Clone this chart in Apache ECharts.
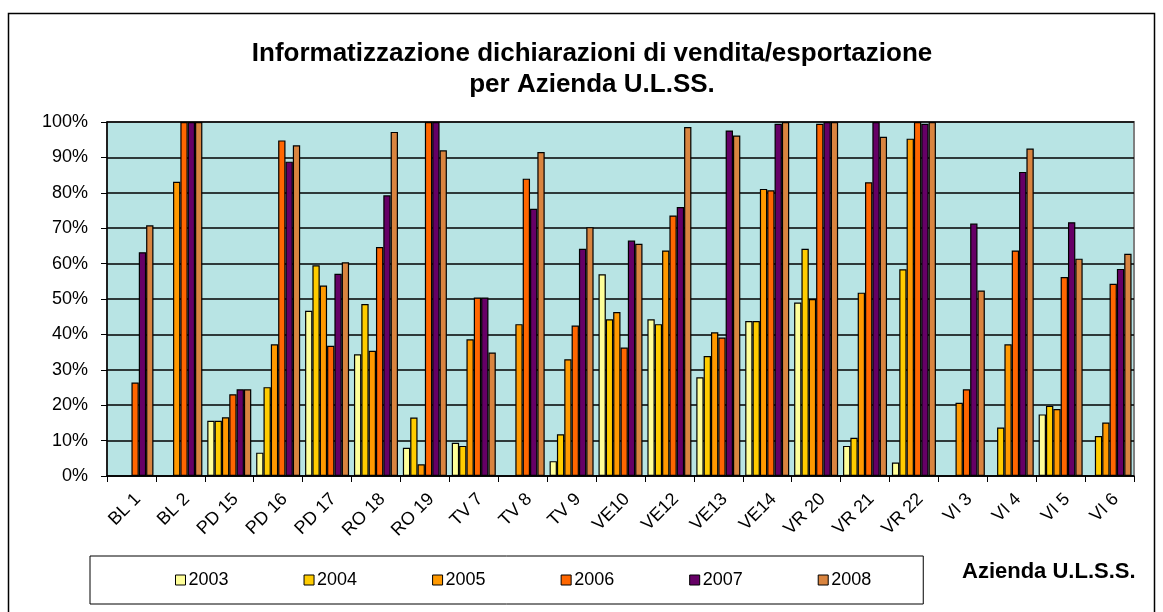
<!DOCTYPE html>
<html>
<head>
<meta charset="utf-8">
<script src="https://cdn.jsdelivr.net/npm/echarts@6/dist/echarts.min.js"></script>
<style>
  html, body { margin: 0; padding: 0; background: #fff; }
  #chart { width: 1163px; height: 612px; }
</style>
</head>
<body>
<div id="chart"></div>
<script>
  // Aziende U.L.SS. (categorie asse x)
  const aziende = ['BL 1', 'BL 2', 'PD 15', 'PD 16', 'PD 17', 'RO 18', 'RO 19', 'TV 7', 'TV 8', 'TV 9',
    'VE10', 'VE12', 'VE13', 'VE14', 'VR 20', 'VR 21', 'VR 22', 'VI 3', 'VI 4', 'VI 5', 'VI 6']
  const anni = ['2003', '2004', '2005', '2006', '2007', '2008']

  // percentuali (null = nessun dato)
  const v2003 = [null, null, 15.6, 6.6, 46.7, 34.4, 8.0, 9.4, null, 4.2, 57.0, 44.3, 27.9, 43.8, 49.0, 8.5, 3.8, null, null, 17.4, null]
  const v2004 = [null, null, 15.6, 25.1, 59.5, 48.6, 16.5, 8.5, null, 11.8, 44.3, 42.9, 33.9, 43.8, 64.2, 10.8, 58.4, null, 13.7, 19.8, 11.3]
  const v2005 = [null, 83.1, 16.6, 37.2, 53.8, 35.4, 3.3, 38.6, 42.9, 33.0, 46.3, 63.7, 40.6, 81.1, 50.0, 51.8, 95.3, 20.7, 37.2, 18.9, 15.1]
  const v2006 = [26.4, 100, 23.1, 94.8, 36.8, 64.7, 100, 50.4, 84.0, 42.5, 36.3, 73.6, 39.1, 80.7, 99.5, 83.0, 100, 24.5, 63.7, 56.2, 54.3]
  const v2007 = [63.2, 100, 24.5, 88.8, 57.1, 79.3, 100, 50.4, 75.5, 64.2, 66.5, 76.0, 97.6, 99.5, 100, 100, 99.5, 71.3, 85.9, 71.7, 58.5]
  const v2008 = [70.8, 100, 24.5, 93.4, 60.4, 97.2, 92.0, 34.9, 91.5, 70.3, 65.6, 98.6, 96.2, 100, 100, 95.8, 100, 52.4, 92.5, 61.4, 62.8]
  const valori = [v2003, v2004, v2005, v2006, v2007, v2008]

  const colori = ['#FFFF99', '#FFCC00', '#FF9900', '#FF6600', '#660066', '#D9843F']
  const font = 'Liberation Sans, Arial, sans-serif'

  const myChart = echarts.init(document.getElementById('chart'))

  myChart.setOption({
    animation: false,
    textStyle: { fontFamily: font, color: '#000' },
    color: colori,
    grid: {
      left: 107, right: 29, top: 122, bottom: 136,
      show: true,
      backgroundColor: '#B8E4E4',
      borderColor: '#808080',
      borderWidth: 2
    },
    legend: {
      data: anni,
      left: 90,
      top: 556,
      padding: [15, 52, 15, 85],
      itemGap: 75,
      itemWidth: 10,
      itemHeight: 10,
      icon: 'rect',
      borderColor: '#000',
      borderWidth: 1,
      itemStyle: { borderColor: '#000', borderWidth: 1 },
      textStyle: { fontSize: 18, fontFamily: font, color: '#000', padding: [0, 0, 0, -2] }
    },
    xAxis: {
      type: 'category',
      data: aziende,
      axisLine: { lineStyle: { color: '#000', width: 1.5 } },
      axisTick: { show: true, length: 6, lineStyle: { color: '#000' } },
      axisLabel: { rotate: 45, fontSize: 18, margin: 14, color: '#000', interval: 0, verticalAlign: 'top' },
      splitLine: { show: false }
    },
    yAxis: {
      type: 'value',
      min: 0,
      max: 100,
      interval: 10,
      axisLine: { show: true, lineStyle: { color: '#000', width: 1.5 } },
      axisTick: { show: true, length: 6, lineStyle: { color: '#000' } },
      axisLabel: { formatter: '{value}%', fontSize: 18, margin: 19, color: '#000' },
      splitLine: { lineStyle: { color: '#000', width: 1.5 } }
    },
    series: anni.map((anno, i) => ({
      name: anno,
      type: 'bar',
      data: valori[i],
      barGap: '0%',
      barCategoryGap: '10%',
      itemStyle: { color: colori[i], borderColor: '#000', borderWidth: 1.2 }
    })),
    graphic: [
      {
        type: 'rect',
        shape: { x: 8.5, y: 13.5, width: 1146, height: 620 },
        style: { fill: 'none', stroke: '#000', lineWidth: 1.5 },
        silent: true
      },
      {
        type: 'text',
        x: 592,
        y: 38,
        style: {
          text: 'Informatizzazione dichiarazioni di vendita/esportazione\nper Azienda U.L.SS.',
          font: 'bold 26px ' + font,
          textAlign: 'center',
          lineHeight: 31,
          fill: '#000'
        }
      },
      {
        type: 'text',
        x: 962,
        y: 561,
        style: {
          text: 'Azienda U.L.S.S.',
          font: 'bold 22px ' + font,
          fill: '#000'
        }
      }
    ]
  })
</script>
</body>
</html>
